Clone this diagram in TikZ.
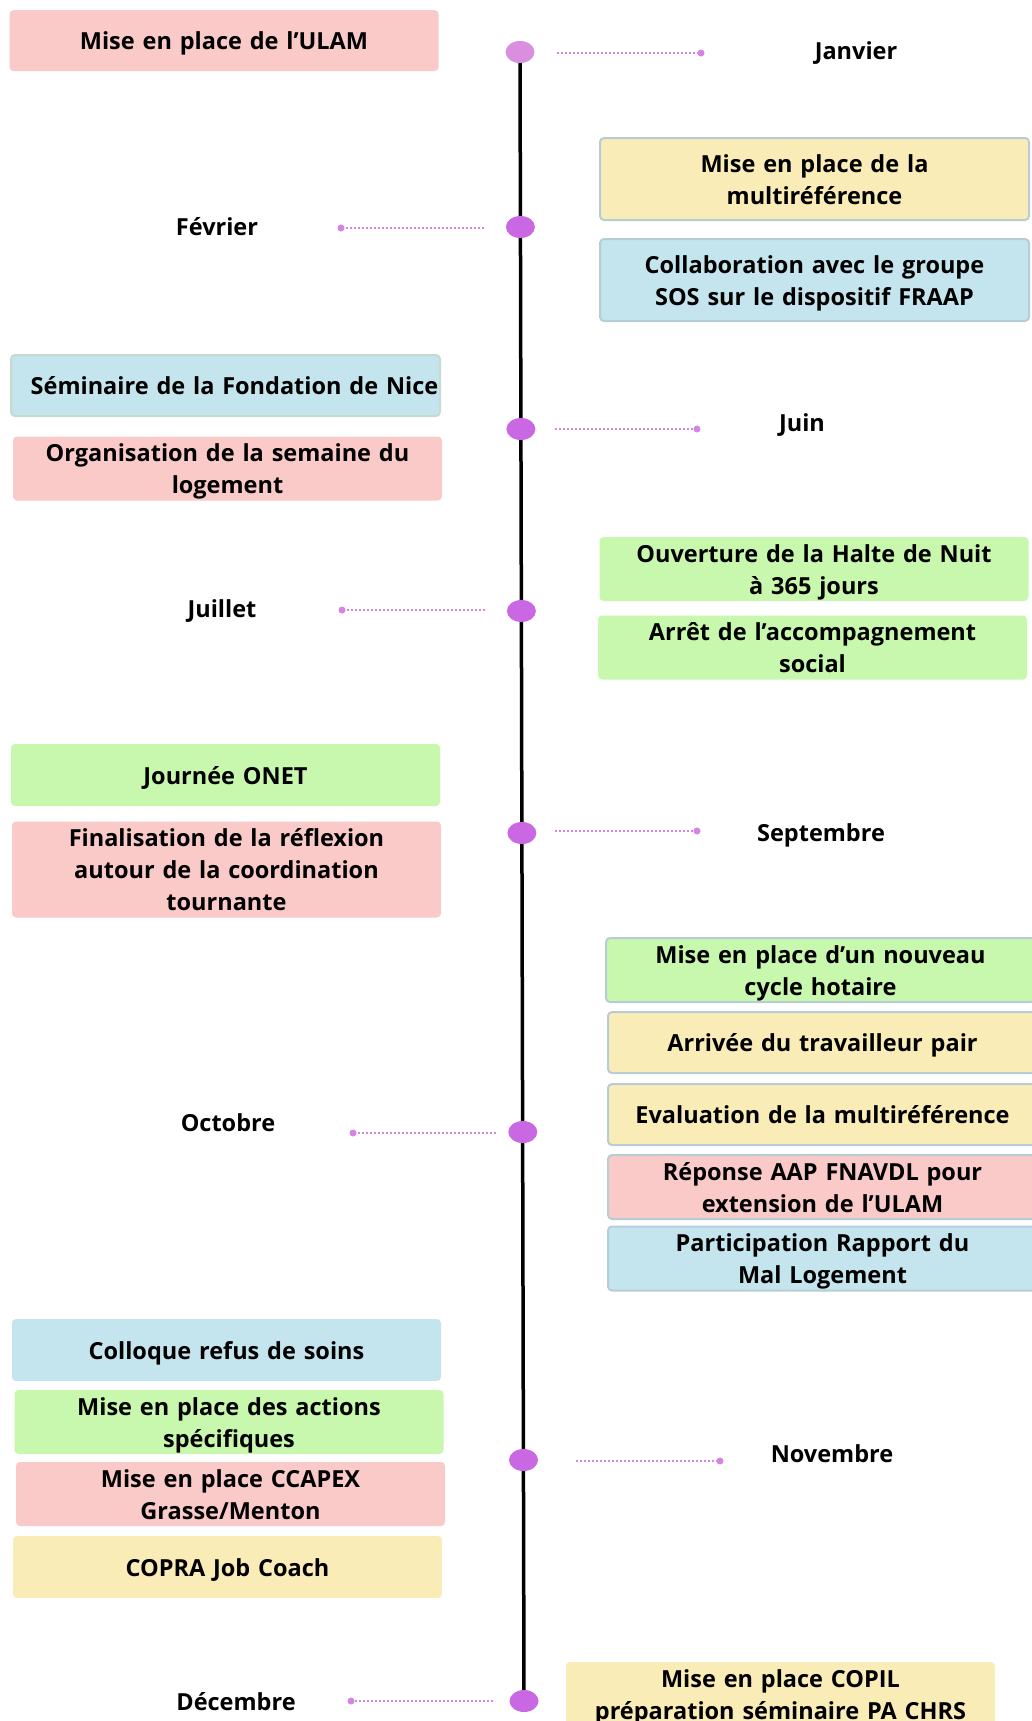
\documentclass[tikz,border=0pt]{standalone}
\usepackage{fontspec}
\setmainfont{Open Sans}
\definecolor{evtpink}{RGB}{249, 202, 200}
\definecolor{evtyellow}{RGB}{249, 236, 182}
\definecolor{evtblue}{RGB}{196, 228, 238}
\definecolor{evtgreen}{RGB}{200, 247, 174}
\definecolor{evtedge}{RGB}{184, 204, 214}
\definecolor{evtedgegreen}{RGB}{198, 218, 206}
\definecolor{dotlight}{RGB}{218, 142, 224}
\definecolor{dotpurple}{RGB}{202, 103, 226}
\definecolor{tickpurple}{RGB}{214, 132, 228}
\usetikzlibrary{shapes, positioning, backgrounds}
% strut with the ascent and descent of the font
\newcommand{\evtstrut}{\rule[-7pt]{0pt}{32pt}}

\tikzset{
  evt/.style={rounded corners=4pt, minimum width=429pt, minimum height=62pt,
    text width=415pt, align=center, inner xsep=7pt, inner ysep=0pt,
    execute at begin node=\evtstrut, execute at end node=\evtstrut,
    font=\bfseries\fontsize{23.5}{32}\selectfont},
  tall/.style={minimum height=82pt},
  pinkbox/.style={evt, fill=evtpink},
  yellowbox/.style={evt, fill=evtyellow},
  bluebox/.style={evt, fill=evtblue},
  greenbox/.style={evt, fill=evtgreen},
  edged/.style={draw=evtedge, line width=2pt},
  month/.style={font=\bfseries\fontsize{23.5}{32}\selectfont},
  bigdot/.style={ellipse, fill=dotpurple, minimum width=29pt, minimum height=22pt, inner sep=0pt},
  enddot/.style={circle, fill=tickpurple, minimum size=7pt, inner sep=0pt},
  tick/.style={draw=tickpurple, line width=2pt, dash pattern=on 2pt off 2pt}
}

\begin{document}
\begin{tikzpicture}[x=1pt, y=-1pt]
  \useasboundingbox (0,0) rectangle (1032,1721);

  % Timeline dots
  \node[bigdot, fill=dotlight] (jan) at (520,52) {};
  \node[bigdot] (fev)  at (520.4,227) {};
  \node[bigdot] (juin) at (520.9,429) {};
  \node[bigdot] (juil) at (521.4,611) {};
  \node[bigdot] (sept) at (521.9,833) {};
  \node[bigdot] (oct)  at (522.8,1132) {};
  \node[bigdot] (nov)  at (523.5,1460) {};
  \node[bigdot] (dec)  at (524,1701) {};
  \begin{scope}[on background layer]
    \draw[line width=3.5pt] (jan.center) -- (dec.center);
  \end{scope}

  % Month labels with dotted ticks
  \node[month] (jan-lbl)  at (856,53.5)   {Janvier};
  \node[month] (fev-lbl)  at (217,227)    {Février};
  \node[month] (juin-lbl) at (802,425.5)  {Juin};
  \node[month] (juil-lbl) at (222,611.5)  {Juillet};
  \node[month] (sept-lbl) at (821,835.5)  {Septembre};
  \node[month] (oct-lbl)  at (228,1122.5) {Octobre};
  \node[month] (nov-lbl)  at (832,1454)   {Novembre};
  \node[month] (dec-lbl)  at (236,1701.5) {Décembre};

  \node[enddot] (jan-end)  at (701,53)   {};
  \node[enddot] (fev-end)  at (341,228)  {};
  \node[enddot] (juin-end) at (697,429)  {};
  \node[enddot] (juil-end) at (342,610)  {};
  \node[enddot] (sept-end) at (697,831)  {};
  \node[enddot] (oct-end)  at (353,1133) {};
  \node[enddot] (nov-end)  at (720,1461) {};
  \node[enddot] (dec-end)  at (351,1701) {};
  \coordinate (jan-start)  at (557,53);
  \coordinate (fev-start)  at (484,228);
  \coordinate (juin-start) at (555,429);
  \coordinate (juil-start) at (485,610);
  \coordinate (sept-start) at (555,831);
  \coordinate (oct-start)  at (496,1133);
  \coordinate (nov-start)  at (576,1461);
  \coordinate (dec-start)  at (493,1701);
  \draw[tick] (jan-start) -- (jan-end);
  \draw[tick] (fev-start) -- (fev-end);
  \draw[tick] (juin-start) -- (juin-end);
  \draw[tick] (juil-start) -- (juil-end);
  \draw[tick] (sept-start) -- (sept-end);
  \draw[tick] (oct-start) -- (oct-end);
  \draw[tick] (nov-start) -- (nov-end);
  \draw[tick] (dec-start) -- (dec-end);

  % Events, left side
  \node[pinkbox, minimum height=61pt] (ulam) at (224,40.5) {Mise en place de l’ULAM};
  \node[bluebox, draw=evtedgegreen, line width=2pt, minimum height=61pt, text width=429pt, inner xsep=0pt] (seminaire) at (225.5,385.5) {\hspace*{18pt}Séminaire de la Fondation de Nice};
  \node[pinkbox] (semaine) at (227.5,468.5) {Organisation de la semaine du\\logement};
  \node[greenbox] (onet) at (225.5,775) {Journée ONET};
  \node[pinkbox, minimum height=95pt] (finalisation) at (226.5,869.5) {Finalisation de la réflexion\\autour de la coordination\\tournante};
  \node[bluebox] (colloque) at (226.5,1350) {Colloque refus de soins};
  \node[greenbox] (actions) at (229,1422) {Mise en place des actions\\spécifiques};
  \node[pinkbox] (ccapex) at (230.5,1494) {Mise en place CCAPEX\\Grasse/Menton};
  \node[yellowbox] (copra) at (227.5,1567) {COPRA Job Coach};

  % Events, right side
  \node[yellowbox, edged, tall] (multiref) at (814.5,179) {Mise en place de la\\multiréférence};
  \node[bluebox, edged, tall] (collab) at (814.5,280) {Collaboration avec le groupe\\SOS sur le dispositif FRAAP};
  \node[greenbox] (halte) at (814,569) {Ouverture de la Halte de Nuit\\à 365 jours};
  \node[greenbox, minimum height=61pt] (arret) at (812.5,647.5) {Arrêt de l’accompagnement\\social};
  \node[greenbox, edged] (cycle) at (820.5,970) {Mise en place d’un nouveau\\cycle hotaire};
  \node[yellowbox, edged, minimum height=61pt] (pair) at (822.5,1042.5) {Arrivée du travailleur pair};
  \node[yellowbox, edged, minimum height=61pt] (evaluation) at (822.5,1114.5) {Evaluation de la multiréférence};
  \node[pinkbox, edged] (fnavdl) at (822.5,1187) {Réponse AAP FNAVDL pour\\extension de l’ULAM};
  \node[bluebox, edged, minimum height=61pt] (rapport) at (822.5,1258.5) {Participation Rapport du\\Mal Logement};
  \node[yellowbox] (copil) at (780.5,1694) {Mise en place COPIL\\préparation séminaire PA CHRS};
\end{tikzpicture}
\end{document}
